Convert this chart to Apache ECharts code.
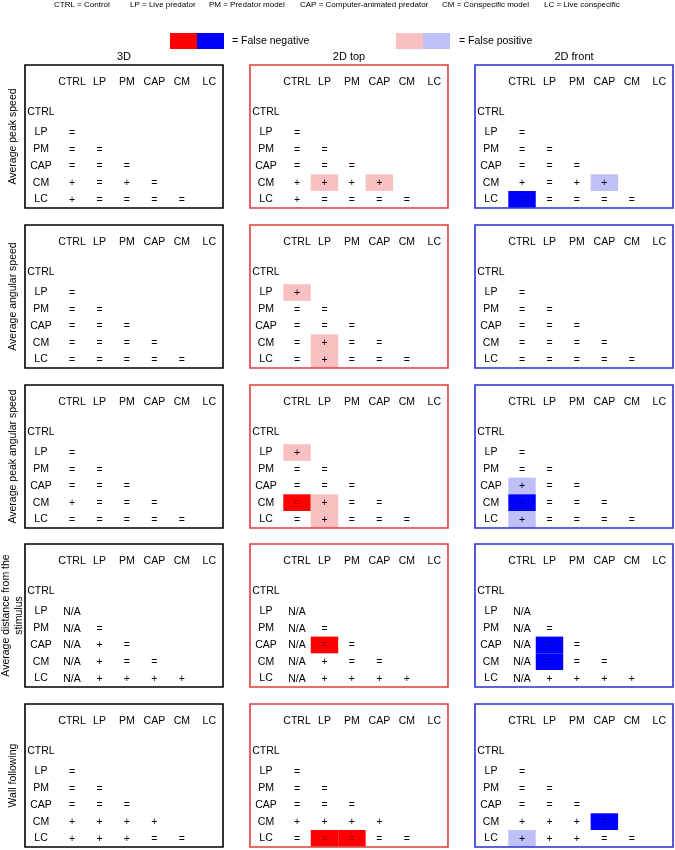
<!DOCTYPE html>
<html><head><meta charset="utf-8">
<script src="https://cdn.jsdelivr.net/npm/echarts@6/dist/echarts.min.js"></script>
<style>html,body{margin:0;padding:0;background:#fff}#c{width:675px;height:850px}</style>
</head><body><div id="c"></div>
<script>
// ---------- data ----------
const rowCats = ['CTRL','LP','PM','CAP','CM','LC'];
const colCats = ['CTRL','LP','PM','CAP','CM','LC'];
const views = ['3D','2D top','2D front'];
const measures = ['Average peak speed','Average angular speed','Average peak angular speed','Average distance from the\nstimulus','Wall following'];
const abbreviations = ['CTRL = Control','LP = Live predator','PM = Predator model','CAP = Computer-animated predator','CM = Conspecific model','LC = Live conspecific'];
const legendLabels = ['= False negative','= False positive'];

// signs, rows LP..LC, columns CTRL..(row-1)
const peakSpeed3D    = [['='],['=','='],['=','=','='],['+','=','+','='],['+','=','=','=','=']];
const peakSpeedTop   = [['='],['=','='],['=','=','='],['+','+','+','+'],['+','=','=','=','=']];
const peakSpeedFront = [['='],['=','='],['=','=','='],['+','=','+','+'],['=','=','=','=','=']];
const angSpeed3D     = [['='],['=','='],['=','=','='],['=','=','=','='],['=','=','=','=','=']];
const angSpeedTop    = [['+'],['=','='],['=','=','='],['=','+','=','='],['=','+','=','=','=']];
const angSpeedFront  = [['='],['=','='],['=','=','='],['=','=','=','='],['=','=','=','=','=']];
const peakAng3D      = [['='],['=','='],['=','=','='],['+','=','=','='],['=','=','=','=','=']];
const peakAngTop     = [['+'],['=','='],['=','=','='],['=','+','=','='],['=','+','=','=','=']];
const peakAngFront   = [['='],['=','='],['+','=','='],['=','=','=','='],['+','=','=','=','=']];
const dist3D         = [['N/A'],['N/A','='],['N/A','+','='],['N/A','+','=','='],['N/A','+','+','+','+']];
const distTop        = [['N/A'],['N/A','='],['N/A','=','='],['N/A','+','=','='],['N/A','+','+','+','+']];
const distFront      = [['N/A'],['N/A','='],['N/A','=','='],['N/A','=','=','='],['N/A','+','+','+','+']];
const wall3D         = [['='],['=','='],['=','=','='],['+','+','+','+'],['+','+','+','=','=']];
const wallTop        = [['='],['=','='],['=','=','='],['+','+','+','+'],['=','=','=','=','=']];
const wallFront      = [['='],['=','='],['=','=','='],['+','+','+','='],['+','+','+','=','=']];

// highlighted cells [row, column, type]
const peakSpeedTopFlags   = [['CM','LP','FP'],['CM','CAP','FP']];
const peakSpeedFrontFlags = [['CM','CAP','FP'],['LC','CTRL','FN']];
const angSpeedTopFlags    = [['LP','CTRL','FP'],['CM','LP','FP'],['LC','LP','FP']];
const peakAngTopFlags     = [['LP','CTRL','FP'],['CM','CTRL','FN'],['CM','LP','FP'],['LC','LP','FP']];
const peakAngFrontFlags   = [['CAP','CTRL','FP'],['CM','CTRL','FN'],['LC','CTRL','FP']];
const distTopFlags        = [['CAP','LP','FN']];
const distFrontFlags      = [['CAP','LP','FN'],['CM','LP','FN']];
const wallTopFlags        = [['LC','LP','FN'],['LC','PM','FN']];
const wallFrontFlags      = [['CM','CAP','FN'],['LC','CTRL','FP']];

const panelSigns = [
  [peakSpeed3D, peakSpeedTop, peakSpeedFront],
  [angSpeed3D, angSpeedTop, angSpeedFront],
  [peakAng3D, peakAngTop, peakAngFront],
  [dist3D, distTop, distFront],
  [wall3D, wallTop, wallFront]
];
const panelFlags = [
  [[], peakSpeedTopFlags, peakSpeedFrontFlags],
  [[], angSpeedTopFlags, []],
  [[], peakAngTopFlags, peakAngFrontFlags],
  [[], distTopFlags, distFrontFlags],
  [[], wallTopFlags, wallFrontFlags]
];

// ---------- styles / layout ----------
const FONT = '"Liberation Sans", Arial, Helvetica, sans-serif';
const frameColors = ['#000000','#e03c3c','#2e2ed6'];
const fnColors = ['#000000','#ff0000','#0000ff'];
const fpColors = ['#000000','#f8c0c0','#c0c0f8'];
const boxLefts = [25, 250, 475];
const boxTops = [65, 225, 385, 544, 704];
const boxW = 198, boxH = 143;
const gridDX = 33.3, gridDY = 42.5, rowH = 16.7;

const chart = echarts.init(document.getElementById('c'), null, {renderer:'canvas'});
const grids = [], xAxes = [], yAxes = [], series = [], graphics = [];

let gi = 0;
for (let m = 0; m < measures.length; m++) {
  for (let v = 0; v < views.length; v++) {
    const bl = boxLefts[v], bt = boxTops[m];
    grids.push({left: bl + gridDX, top: bt + gridDY, width: boxW - gridDX, height: rowH * rowCats.length});
    xAxes.push({
      gridIndex: gi, type: 'category', data: colCats, position: 'top',
      axisLine: {show: false}, axisTick: {show: false}, splitLine: {show: false},
      axisLabel: {interval: 0, margin: gridDY - 17, verticalAlign: 'middle', fontSize: 10.5, color: '#000', fontFamily: FONT}
    });
    yAxes.push({
      gridIndex: gi, type: 'category', data: rowCats, inverse: true,
      axisLine: {show: false}, axisTick: {show: false}, splitLine: {show: false},
      axisLabel: {
        interval: 0, margin: gridDX - 16, align: 'center', fontSize: 10.5, color: '#000', fontFamily: FONT,
        formatter: val => val === 'CTRL' ? '{up|CTRL}' : val,
        rich: {up: {fontSize: 10.5, fontFamily: FONT, color: '#000', padding: [0, 0, 8, 0]}}
      }
    });
    const signs = panelSigns[m][v];
    const flags = panelFlags[m][v];
    const items = [];
    signs.forEach((row, r) => {
      row.forEach((s, c) => {
        const rowName = rowCats[r + 1], colName = colCats[c];
        const f = flags.find(fl => fl[0] === rowName && fl[1] === colName);
        items.push({value: [colName, rowName], sign: s, flag: f ? f[2] : null});
      });
    });
    const vv = v;
    series.push({
      type: 'custom', xAxisIndex: gi, yAxisIndex: gi, silent: true,
      data: items.map(it => it.value),
      encode: {x: 0, y: 1},
      renderItem: (params, api) => {
        const it = items[params.dataIndex];
        const p = api.coord([api.value(0), api.value(1)]);
        const sz = api.size([1, 1]);
        const children = [];
        if (it.flag) {
          children.push({type: 'rect', shape: {x: p[0] - sz[0] / 2, y: p[1] - sz[1] / 2, width: sz[0], height: sz[1]},
            style: {fill: it.flag === 'FN' ? fnColors[vv] : fpColors[vv]}});
        }
        children.push({type: 'text', style: {text: it.sign, x: p[0], y: p[1] + 0.5, align: 'center', verticalAlign: 'middle',
          fill: it.flag === 'FN' ? 'rgba(0,0,0,0.35)' : '#000', font: '10.5px ' + FONT}});
        return {type: 'group', children};
      }
    });
    graphics.push({type: 'rect', z: 100, shape: {x: bl, y: bt, width: boxW, height: boxH},
      style: {fill: 'none', stroke: frameColors[v], lineWidth: 1.6}});
    gi++;
  }
}

// column titles
views.forEach((t, v) => {
  graphics.push({type: 'text', style: {text: t, x: boxLefts[v] + boxW / 2, y: 57, align: 'center', verticalAlign: 'middle',
    font: '11px ' + FONT, fill: '#000'}});
});
// row titles
measures.forEach((t, m) => {
  graphics.push({type: 'text', x: 13, y: boxTops[m] + boxH / 2, rotation: Math.PI / 2,
    style: {text: t, x: 0, y: 0, align: 'center', verticalAlign: 'middle', font: '10.5px ' + FONT, fill: '#000', lineHeight: 13}});
});
// abbreviations line
const abbrX = [54, 130, 209, 300, 442, 544];
abbreviations.forEach((t, i) => {
  graphics.push({type: 'text', style: {text: t, x: abbrX[i], y: 5, align: 'left', verticalAlign: 'middle', font: '8px ' + FONT, fill: '#000'}});
});
// colour key
const keyY = 33, keyH = 16, keyW = 27;
[[170, fnColors[1]], [197, fnColors[2]], [396, fpColors[1]], [423, fpColors[2]]].forEach(k => {
  graphics.push({type: 'rect', shape: {x: k[0], y: keyY, width: keyW, height: keyH}, style: {fill: k[1]}});
});
graphics.push({type: 'text', style: {text: legendLabels[0], x: 232, y: keyY + keyH / 2, align: 'left', verticalAlign: 'middle', font: '10.5px ' + FONT, fill: '#000'}});
graphics.push({type: 'text', style: {text: legendLabels[1], x: 459, y: keyY + keyH / 2, align: 'left', verticalAlign: 'middle', font: '10.5px ' + FONT, fill: '#000'}});

chart.setOption({
  animation: false,
  backgroundColor: '#fff',
  grid: grids, xAxis: xAxes, yAxis: yAxes, series: series, graphic: graphics
});
</script></body></html>
